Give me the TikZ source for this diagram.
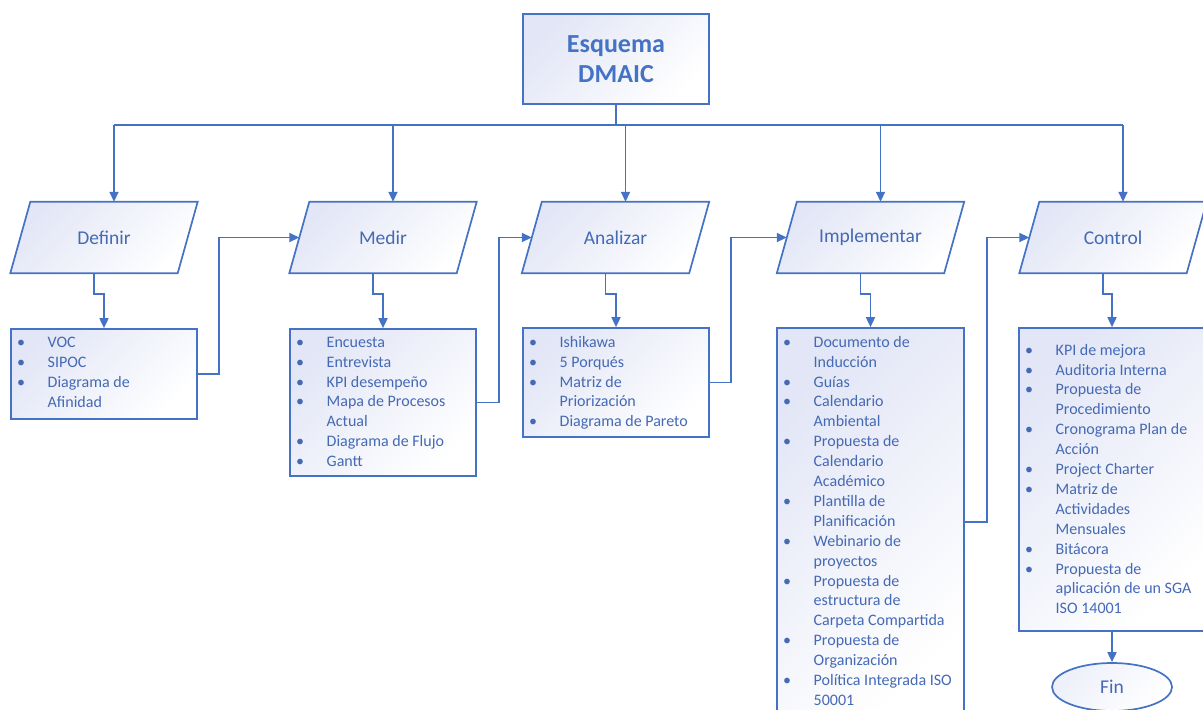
\documentclass[tikz,border=0pt]{standalone}
\usepackage{fontspec}
\setmainfont{Carlito}
\usetikzlibrary{arrows.meta,shapes.geometric,backgrounds}
\definecolor{dblue}{HTML}{4472C4}
\definecolor{tblue}{HTML}{4469B5}
\definecolor{lav}{RGB}{226,230,246}
\newcommand\dmBul{\makebox[36.5pt][l]{\hspace{6pt}\textbullet}}
\newcommand\dmInd{\hspace*{36.5pt}}
\begin{document}
\begin{tikzpicture}[x=1pt,y=-1pt,
  line/.style={draw=dblue,line width=1.7pt},
  arr/.style={line,-{Triangle[length=10pt,width=9pt]}},
  boxfill/.style={top color=lav,bottom color=white,shading angle=45},
  rbox/.style={rectangle,line,boxfill,inner sep=0pt},
  pbox/.style={rectangle,inner sep=0pt,minimum width=187pt,minimum height=71pt,text=tblue,font=\fontsize{19.5}{23}\selectfont},
  list/.style={anchor=north west,inner sep=0pt,align=left,text=tblue,font=\fontsize{16}{19.9}\selectfont},
]
\useasboundingbox (0,0) rectangle (1203,710);

% title
\node[rbox,minimum width=186pt,minimum height=90pt,text=dblue,font=\bfseries\fontsize{26}{30}\selectfont,align=center] (title) at (616,59) {Esquema\\DMAIC};

% phases
\node[pbox] (def) at (104,237.5) {Definir};
\node[pbox] (med) at (383,237.5) {Medir};
\node[pbox] (ana) at (615.5,237.5) {Analizar};
\node[pbox] (imp) at (870.5,237.5) {Implementar};
\node[pbox] (con) at (1113,237.5) {Control};

\begin{scope}[on background layer]
\foreach \n in {def,med,ana,imp,con}
  \path[line,boxfill] (\n.south west) -- ([xshift=20pt]\n.north west) -- (\n.north east) -- ([xshift=-20pt]\n.south east) -- cycle;
\end{scope}

\foreach \n in {def,med,ana,imp,con}{
  \coordinate (\n-t) at ([xshift=10pt]\n.north);
  \coordinate (\n-b) at ([xshift=-10pt]\n.south);
  \coordinate (\n-l) at ([xshift=10pt]\n.west);
}

% list boxes
\node[rbox,minimum width=186pt,minimum height=90pt] (def-box) at (104,374) {};
\node[rbox,minimum width=186pt,minimum height=147pt] (med-box) at (383,402.5) {};
\node[rbox,minimum width=186pt,minimum height=109pt] (ana-box) at (616,382.5) {};
\node[rbox,minimum width=187pt,minimum height=388pt] (imp-box) at (870.5,522) {};
\node[rbox,minimum width=186pt,minimum height=303pt] (con-box) at (1112,479.5) {};

\node[list] (def-txt) at (11,333.6) {\strut\dmBul VOC\\ \dmBul SIPOC\\ \dmBul Diagrama de\\ \dmInd Afinidad};
\node[list] (med-txt) at (290,333.1) {\strut\dmBul Encuesta\\ \dmBul Entrevista\\ \dmBul KPI desempeño\\ \dmBul Mapa de Procesos\\ \dmInd Actual\\ \dmBul Diagrama de Flujo\\ \dmBul Gantt};
\node[list] (ana-txt) at (523,333.1) {\strut\dmBul Ishikawa\\ \dmBul 5 Porqués\\ \dmBul Matriz de\\ \dmInd Priorización\\ \dmBul Diagrama de Pareto};
\node[list] (imp-txt) at (777,333.1) {\strut\dmBul Documento de\\ \dmInd Inducción\\ \dmBul Guías\\ \dmBul Calendario\\ \dmInd Ambiental\\ \dmBul Propuesta de\\ \dmInd Calendario\\ \dmInd Académico\\ \dmBul Plantilla de\\ \dmInd Planificación\\ \dmBul Webinario de\\ \dmInd proyectos\\ \dmBul Propuesta de\\ \dmInd estructura de\\ \dmInd Carpeta Compartida\\ \dmBul Propuesta de\\ \dmInd Organización\\ \dmBul Política Integrada ISO\\ \dmInd 50001};
\node[list] (con-txt) at (1019,341) {\strut\dmBul KPI de mejora\\ \dmBul Auditoria Interna\\ \dmBul Propuesta de\\ \dmInd Procedimiento\\ \dmBul Cronograma Plan de\\ \dmInd Acción\\ \dmBul Project Charter\\ \dmBul Matriz de\\ \dmInd Actividades\\ \dmInd Mensuales\\ \dmBul Bitácora\\ \dmBul Propuesta de\\ \dmInd aplicación de un SGA\\ \dmInd ISO 14001};

% end
\node[ellipse,line,top color=lav!60,bottom color=white,shading angle=45,minimum width=120pt,minimum height=48pt,inner sep=0pt,text=tblue,font=\fontsize{19.5}{23}\selectfont] (fin) at (1112,687) {Fin};

% connectors
\coordinate (bus) at (616,125);
\draw[line] (title.south) -- (bus);
\draw[line] (def-t |- bus) -- (con-t |- bus);
\foreach \n in {def,med,ana,imp,con}{
  \draw[arr] (\n-t |- bus) -- (\n-t);
  \draw[arr] (\n-b) -- ++(0,21) -| (\n-box.north);
}
\draw[arr] (def-box.east) -- ++(21,0) |- (med-l);
\draw[arr] (med-box.east) -- ++(22,0) |- (ana-l);
\draw[arr] (ana-box.east) -- ++(21,0) |- (imp-l);
\draw[arr] (imp-box.east) -- ++(22,0) |- (con-l);
\draw[arr] (con-box.south) -- (fin.north);
\end{tikzpicture}
\end{document}
